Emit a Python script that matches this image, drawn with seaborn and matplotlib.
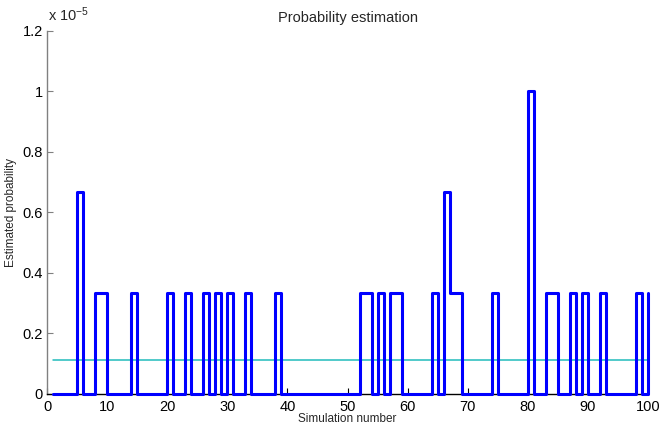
import matplotlib
matplotlib.use("Agg")
import matplotlib.pyplot as plt
import numpy as np
import pandas as pd
import seaborn as sns

sns.set_theme(style="white")
plt.rcParams['font.family'] = ['Liberation Sans', 'DejaVu Sans']
plt.rcParams['mathtext.default'] = 'regular'

# estimated probability per simulation, in units of 1e-5
sims = list(range(1, 101))
est = [0, 0, 0, 0, 0.667, 0, 0, 0.333, 0.333, 0,
       0, 0, 0, 0.333, 0, 0, 0, 0, 0, 0.333,
       0, 0, 0.333, 0, 0, 0.333, 0, 0.333, 0, 0.333,
       0, 0, 0.333, 0, 0, 0, 0, 0.333, 0, 0,
       0, 0, 0, 0, 0, 0, 0, 0, 0, 0,
       0, 0.333, 0.333, 0, 0.333, 0, 0.333, 0.333, 0, 0,
       0, 0, 0, 0.333, 0, 0.667, 0.333, 0.333, 0, 0,
       0, 0, 0, 0.333, 0, 0, 0, 0, 0, 1.0,
       0, 0, 0.333, 0.333, 0, 0, 0.333, 0, 0.333, 0,
       0, 0.333, 0, 0, 0, 0, 0, 0.333, 0, 0.333]
true_prob = 0.111  # reference value, units of 1e-5

xticks = list(range(0, 101, 10))
yticks = [0, 0.2, 0.4, 0.6, 0.8, 1.0, 1.2]

data = pd.DataFrame({'sim': sims, 'est': est, 'ref': [true_prob] * len(sims)})

fig = plt.figure(figsize=(6.63, 4.25), dpi=100)
ax = fig.add_axes([0.0709, 0.0741, 0.9065, 0.8541])

sns.lineplot(data=data, x='sim', y='ref', ax=ax, color='#22bcbc', linewidth=1.1,
             estimator=None, zorder=3)
sns.lineplot(data=data, x='sim', y='est', ax=ax, color='#0000ff', linewidth=2.2,
             drawstyle='steps-post', estimator=None, zorder=4, clip_on=False)

ax.set_xlim(0, 100)
ax.set_ylim(0, 1.2)
ax.set_xticks(xticks)
ax.set_yticks(yticks)
ax.set_xticklabels([str(t) for t in xticks])
ax.set_yticklabels(['%g' % t for t in yticks])

for s in ['top', 'right']:
    ax.spines[s].set_visible(False)
ax.spines['left'].set_color('#808080')
ax.spines['bottom'].set_color('black')
for s in ['left', 'bottom']:
    ax.spines[s].set_linewidth(1.0)

ax.tick_params(axis='both', direction='in', length=4, width=0.8, labelsize=10.5,
               colors='black', left=True, bottom=True)
ax.tick_params(axis='y', pad=3, color='#808080')
ax.tick_params(axis='x', pad=5)

ax.set_title('Probability estimation', fontsize=10.5, pad=6)
ax.set_xlabel('Simulation number', fontsize=8.5, labelpad=-1)
ax.set_ylabel('Estimated probability', fontsize=8.5, labelpad=4)

ax.annotate(r'x 10$^{-5}$', xy=(0, 1), xycoords='axes fraction',
            xytext=(1, 5), textcoords='offset points', fontsize=10.5,
            ha='left', va='bottom')

fig.savefig('out.png', dpi=100)
